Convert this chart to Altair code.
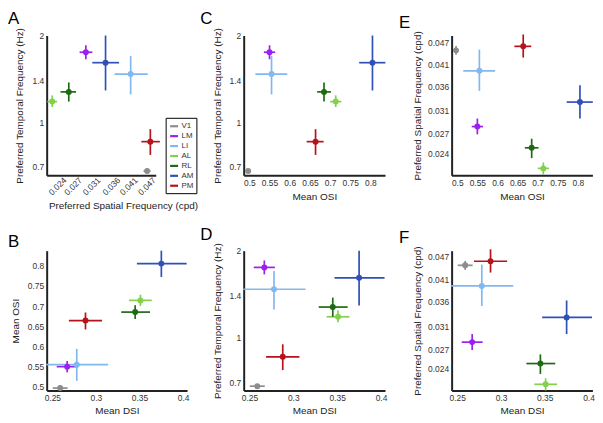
import altair as alt
import pandas as pd

areas = ["V1", "LM", "LI", "AL", "RL", "AM", "PM"]
colors = ["#8c8c8c", "#9b1ff0", "#80b8ef", "#84d04c", "#1e6a12", "#3050b8", "#b5121b"]

sf = [0.0447, 0.0282, 0.0395, 0.0219, 0.0248, 0.0327, 0.0458]
sf_lo = [0.0435, 0.0269, 0.0350, 0.0211, 0.0233, 0.0296, 0.0428]
sf_hi = [0.0459, 0.0296, 0.0449, 0.0227, 0.0262, 0.0362, 0.0492]

tf = [0.678, 1.75, 1.47, 1.18, 1.275, 1.61, 0.857]
tf_lo = [0.666, 1.655, 1.25, 1.13, 1.18, 1.29, 0.771]
tf_hi = [0.690, 1.85, 1.70, 1.24, 1.375, 2.0, 0.947]

osi = [0.497, 0.550, 0.555, 0.714, 0.685, 0.805, 0.664]
osi_lo = [0.491, 0.536, 0.515, 0.700, 0.668, 0.772, 0.642]
osi_hi = [0.503, 0.564, 0.594, 0.728, 0.702, 0.837, 0.684]

dsi = [0.259, 0.267, 0.278, 0.351, 0.345, 0.375, 0.288]
dsi_lo = [0.2505, 0.255, 0.243, 0.338, 0.329, 0.347, 0.269]
dsi_hi = [0.2675, 0.279, 0.314, 0.364, 0.362, 0.404, 0.307]

tf_ticks = [0.7, 1, 1.4, 2]
sf_ticks = [0.024, 0.027, 0.031, 0.036, 0.041, 0.047]
osi_ticks = [0.5, 0.55, 0.6, 0.65, 0.7, 0.75, 0.8]
dsi_ticks = [0.25, 0.3, 0.35, 0.4]

df = pd.DataFrame({
    "area": areas, "sf": sf, "sf_lo": sf_lo, "sf_hi": sf_hi,
    "tf": tf, "tf_lo": tf_lo, "tf_hi": tf_hi,
    "osi": osi, "osi_lo": osi_lo, "osi_hi": osi_hi,
    "dsi": dsi, "dsi_lo": dsi_lo, "dsi_hi": dsi_hi,
})

FONT = "Liberation Sans"
TXT = "#333333"

def axis(title, values, tpad, **kw):
    return alt.Axis(title=title, values=values, format="~g", ticks=False, grid=False,
                    domainColor="#222222", domainWidth=2, labelFont=FONT, labelFontSize=8.5,
                    labelColor=TXT, titleFont=FONT, titleFontSize=10, titleFontWeight="normal",
                    titleColor="#222222", titlePadding=tpad, labelFlush=False,
                    labelOverlap=False, labelPadding=3, **kw)

def panel(xf, yf, xscale, yscale, xax, yax, width, height, letter, dx, legend=None):
    cscale = alt.Scale(domain=areas, range=colors)
    col = alt.Color("area:N", scale=cscale, legend=legend)
    base = alt.Chart(df)
    hbar = base.mark_rule(strokeWidth=1.7).encode(
        x=alt.X(f"{xf}_lo:Q", scale=xscale, axis=xax),
        x2=f"{xf}_hi:Q",
        y=alt.Y(f"{yf}:Q", scale=yscale, axis=yax),
        color=col,
    )
    vbar = base.mark_rule(strokeWidth=1.7).encode(
        x=alt.X(f"{xf}:Q", scale=xscale, axis=xax),
        y=alt.Y(f"{yf}_lo:Q", scale=yscale, axis=yax),
        y2=f"{yf}_hi:Q",
        color=col,
    )
    pts = base.mark_circle(size=36, opacity=1).encode(
        x=alt.X(f"{xf}:Q", scale=xscale, axis=xax),
        y=alt.Y(f"{yf}:Q", scale=yscale, axis=yax),
        color=col,
    )
    return alt.layer(hbar, vbar, pts).properties(
        width=width, height=height,
        title=alt.TitleParams(letter, anchor="start", frame="group", dx=dx, offset=-1,
                              fontSize=17, fontWeight="normal", font=FONT, color="black"),
    )

W1 = 131.3
H = 141

tf_scale = alt.Scale(type="log", domain=[0.655, 2.0], nice=False)
tf_title = "Preferred Temporal Frequency (Hz)"
sf_title = "Preferred Spatial Frequency (cpd)"

legA = alt.Legend(orient="none", legendX=120, legendY=83, title=None, strokeColor="black",
                  fillColor="white", padding=3, symbolType="stroke", symbolStrokeWidth=2.2,
                  symbolSize=64, labelFont=FONT, labelFontSize=8, labelColor=TXT,
                  rowPadding=-0.7, labelOffset=2)

A = panel("sf", "tf",
          alt.Scale(type="log", domain=[0.0210, 0.0477], nice=False, range=[0, 110]),
          tf_scale,
          axis(sf_title, sf_ticks, 4, labelAngle=-45, labelAlign="right", labelBaseline="middle", titleX=77),
          axis(tf_title, tf_ticks, 8),
          W1, H, "A", -39, legend=legA)

C = panel("osi", "tf",
          alt.Scale(domain=[0.486, 0.836], nice=False, zero=False),
          tf_scale,
          axis("Mean OSI", osi_ticks, 5),
          axis(tf_title, tf_ticks, 7),
          142.5, H, "C", -43.7)

E = panel("osi", "sf",
          alt.Scale(domain=[0.486, 0.836], nice=False, zero=False),
          alt.Scale(type="log", domain=[0.0210, 0.0489], nice=False),
          axis("Mean OSI", osi_ticks, 5),
          axis(sf_title, sf_ticks, 5),
          142, H, "E", -53)

B = panel("dsi", "osi",
          alt.Scale(domain=[0.2435, 0.4045], nice=False, zero=False, range=[0, 141.6]),
          alt.Scale(domain=[0.491, 0.837], nice=False, zero=False),
          axis("Mean DSI", dsi_ticks, 4),
          axis("Mean OSI", osi_ticks, 6.5),
          W1, H, "B", -39)

D = panel("dsi", "tf",
          alt.Scale(domain=[0.2435, 0.4045], nice=False, zero=False),
          tf_scale,
          axis("Mean DSI", dsi_ticks, 4),
          axis(tf_title, tf_ticks, 7),
          142.5, H, "D", -43.7)

F = panel("dsi", "sf",
          alt.Scale(domain=[0.2435, 0.4045], nice=False, zero=False),
          alt.Scale(type="log", domain=[0.0211, 0.0488], nice=False),
          axis("Mean DSI", dsi_ticks, 4),
          axis(sf_title, sf_ticks, 5),
          142, H, "F", -53)

chart = alt.concat(A, C, E, B, D, F, columns=3).properties(
    bounds="flush", spacing={"row": 76, "column": 66.7},
    padding=0,
    background="white",
).resolve_scale(color="independent", x="independent", y="independent").resolve_legend(
    color="independent"
).configure_view(stroke=None)

chart.save("out.html", embed_options={"renderer": "svg", "actions": False})
